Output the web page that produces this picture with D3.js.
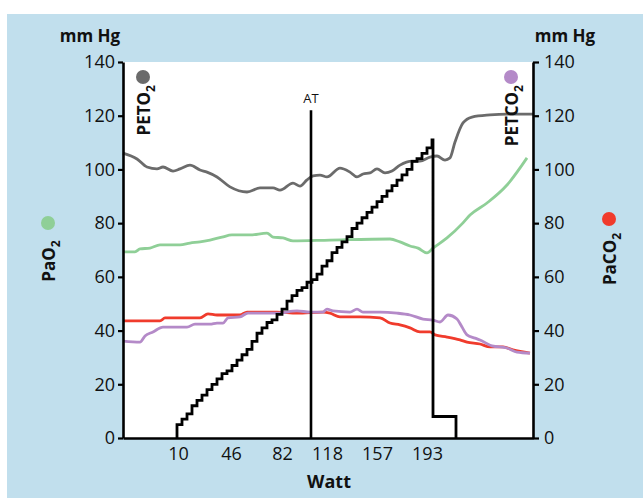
<!DOCTYPE html>
<html><head><meta charset="utf-8">
<script src="https://cdn.jsdelivr.net/npm/d3@7"></script>
<style>
html,body{margin:0;padding:0;background:#fff;}
svg{display:block;}
text{font-family:"Open Sans","Noto Sans",sans-serif;fill:#111;}
</style></head>
<body><svg id="c" width="643" height="498"></svg>
<script>
// ---- data (x in minutes of test, y in mm Hg) ----
const xTickPos = [2.75, 5.4, 7.95, 10.2, 12.7, 15.2];
const xTickLabels = ["10", "46", "82", "118", "157", "193"];
const yTicks = [0, 20, 40, 60, 80, 100, 120, 140];
const atTime = 9.4;
const atTop = 122;

const petO2T = [0,0.7,1.2,1.7,2.0,2.5,2.85,3.35,3.85,4.2,4.7,5.35,6.2,6.85,7.5,7.85,8.5,8.85,9.2,9.5,9.85,10.2,10.85,11.35,11.7,12.0,12.35,12.7,13.1,13.45,13.85,14.45,14.85,15.35,15.7,16.1,16.35,16.6,17.0,17.45,18.35,19.2,20.5];
const petO2V = [106.1,103.9,100.9,100.2,100.9,99.4,100.2,101.6,99.8,99.0,97.2,93.5,91.6,93.1,93.1,92.3,94.9,93.8,96.1,97.6,97.9,97.2,100.5,99.0,97.2,98.3,98.7,100.2,98.7,99.4,101.6,103.1,103.1,104.6,105.0,103.5,104.3,110.2,117.3,119.5,120.3,120.6,120.6];

const paO2T = [0,0.6,0.85,1.35,1.85,2.85,3.35,3.85,4.35,4.95,5.45,6.35,7.2,7.5,8.0,8.5,10.35,13.35,13.85,14.35,14.75,15.2,15.5,16.2,17.0,17.35,18.2,19.2,20.2];
const paO2V = [69.3,69.3,70.4,70.7,71.9,71.9,72.6,73.0,73.7,74.8,75.6,75.6,76.3,74.8,74.5,73.4,73.7,74.1,73.0,71.5,70.7,68.9,70.7,74.5,80.1,83.0,87.5,94.2,104.3];

const paCO2T = [0,1.85,2.1,3.85,4.25,4.7,5.85,6.2,7.7,8.7,10.0,10.35,10.85,11.85,12.85,13.35,13.85,14.35,14.85,15.35,15.6,16.2,16.85,17.2,17.85,18.35,19.0,19.5,20.35];
const paCO2V = [43.6,43.6,44.7,44.7,46.2,45.8,45.8,46.9,46.9,46.5,46.9,46.5,45.1,45.1,44.7,42.8,42.1,41.0,39.5,39.5,38.4,37.6,36.5,35.7,35.0,33.9,33.9,32.8,31.6];

const petCO2T = [0,0.85,1.1,1.5,2.0,3.2,3.6,4.35,4.7,5.0,5.25,5.85,6.25,7.7,8.7,9.35,10.0,10.2,10.5,11.35,11.7,12.0,12.85,13.7,14.35,15.0,15.5,15.85,16.25,16.7,16.95,17.2,17.6,17.85,18.45,19.2,19.7,20.35];
const petCO2V = [36.1,35.7,38.0,39.5,41.3,41.3,42.4,42.4,42.8,42.8,44.7,45.1,46.5,46.5,47.3,46.9,46.9,48.0,47.3,46.9,48.0,46.9,46.9,46.5,45.8,44.3,43.9,43.2,45.8,44.3,41.3,38.4,37.2,36.5,34.3,33.5,32.0,31.6];

// workload ramp (step protocol), values on the mm Hg scale
const rampStart = 2.7;
const rampStepMin = 0.25;
const rampLevels = [5,7,9,12,14,16,18,20,22,24,25,27,29,31,33,36,39,41,43,44,46,48,51,53,55,56,58,59,61,64,66,69,71,73,75,78,80,82,84,86,88,90,92,94,96,98,100,103,104,106,108,111];
const rampEnd = 15.5;
const recoveryLevel = 8;
const recoveryEnd = 16.65;

// ---- layout ----
const svg = d3.select("#c");
const W = 643, H = 498;
const m = {l:123, r:533, t:62, b:438};
const x = d3.scaleLinear().domain([0, 20.5]).range([m.l, m.r]);
const y = d3.scaleLinear().domain([0, 140]).range([m.b, m.t]);

svg.append("rect").attr("x",0).attr("y",0).attr("width",W).attr("height",H).attr("fill","#fff");
svg.append("rect").attr("x",7).attr("y",14).attr("width",W-7).attr("height",H-14).attr("fill","#c1dfed");
svg.append("rect").attr("x",m.l).attr("y",m.t).attr("width",m.r-m.l).attr("height",m.b-m.t).attr("fill","#fff");

const line = d3.line().x(d=>x(d[0])).y(d=>y(d[1])).curve(d3.curveMonotoneX);
const zip = (a,b)=>a.map((v,i)=>[v,b[i]]);
const series = [
  {t:paCO2T, v:paCO2V, c:"#f03b2c"},
  {t:petCO2T, v:petCO2V, c:"#b48ac8"},
  {t:paO2T, v:paO2V, c:"#8fcf97"},
  {t:petO2T, v:petO2V, c:"#6b6b6b"},
];
series.forEach(s=>{
  svg.append("path").attr("d", line(zip(s.t,s.v))).attr("fill","none")
    .attr("stroke",s.c).attr("stroke-width",2.8).attr("stroke-linejoin","round");
});

// ramp
const rampPts = [[rampStart,0]];
rampLevels.forEach((v,i)=>rampPts.push([rampStart+i*rampStepMin, v]));
rampPts.push([rampEnd, recoveryLevel]);
rampPts.push([recoveryEnd, 0]);
const stepLine = d3.line().x(d=>x(d[0])).y(d=>y(d[1])).curve(d3.curveStepAfter);
svg.append("path").attr("d", stepLine(rampPts)).attr("fill","none")
  .attr("stroke","#000").attr("stroke-width",2.8).attr("stroke-linejoin","miter");

// AT line
svg.append("line").attr("x1",x(atTime)).attr("x2",x(atTime)).attr("y1",y(0)).attr("y2",y(atTop))
  .attr("stroke","#000").attr("stroke-width",2.6);
svg.append("text").attr("x",x(atTime)).attr("y",y(atTop)-7).attr("text-anchor","middle")
  .style("font-size","13px").text("AT");

// axes
const axL = svg.append("g").attr("transform",`translate(${m.l},0)`)
  .call(d3.axisLeft(y).tickValues(yTicks).tickSize(5).tickSizeOuter(0).tickPadding(3));
const axR = svg.append("g").attr("transform",`translate(${m.r},0)`)
  .call(d3.axisRight(y).tickValues(yTicks).tickSize(6).tickSizeOuter(0).tickPadding(5));
const axB = svg.append("g").attr("transform",`translate(0,${m.b})`)
  .call(d3.axisBottom(x).tickValues(xTickPos).tickFormat((d,i)=>xTickLabels[i]).tickSize(0).tickSizeOuter(0).tickPadding(9));
[axL,axR,axB].forEach(g=>{
  g.select(".domain").attr("stroke","#000").attr("stroke-width",2.6);
  g.selectAll(".tick line").attr("stroke","#000").attr("stroke-width",2.2);
  g.selectAll("text").style("font-size","18px").style("font-family","'Open Sans',sans-serif").attr("fill","#111");
});

// unit labels
svg.append("text").attr("x",90).attr("y",42).attr("text-anchor","middle")
  .style("font-size","17px").style("font-weight","bold").text("mm Hg");
svg.append("text").attr("x",565).attr("y",42).attr("text-anchor","middle")
  .style("font-size","17px").style("font-weight","bold").text("mm Hg");
svg.append("text").attr("x",329).attr("y",488).attr("text-anchor","middle")
  .style("font-size","18px").style("font-weight","bold").text("Watt");

// legend dots and rotated labels
const legends = [
  {cx:143, cy:77, c:"#6b6b6b", main:"PETO", anchor:"end", ty:85},
  {cx:511, cy:77, c:"#b48ac8", main:"PETCO", anchor:"end", ty:85},
  {cx:48, cy:223, c:"#8fcf97", main:"PaO", anchor:"middle", ty:261},
  {cx:609, cy:219, c:"#f03b2c", main:"PaCO", anchor:"middle", ty:259},
];
legends.forEach(L=>{
  svg.append("circle").attr("cx",L.cx).attr("cy",L.cy).attr("r",7).attr("fill",L.c);
  const t = svg.append("text").attr("transform",`translate(${L.cx+7},${L.ty}) rotate(-90)`)
    .attr("text-anchor",L.anchor).style("font-size","17px").style("font-weight","bold");
  t.append("tspan").text(L.main);
  t.append("tspan").attr("dy",5).style("font-size","12px").text("2");
});
</script></body></html>
